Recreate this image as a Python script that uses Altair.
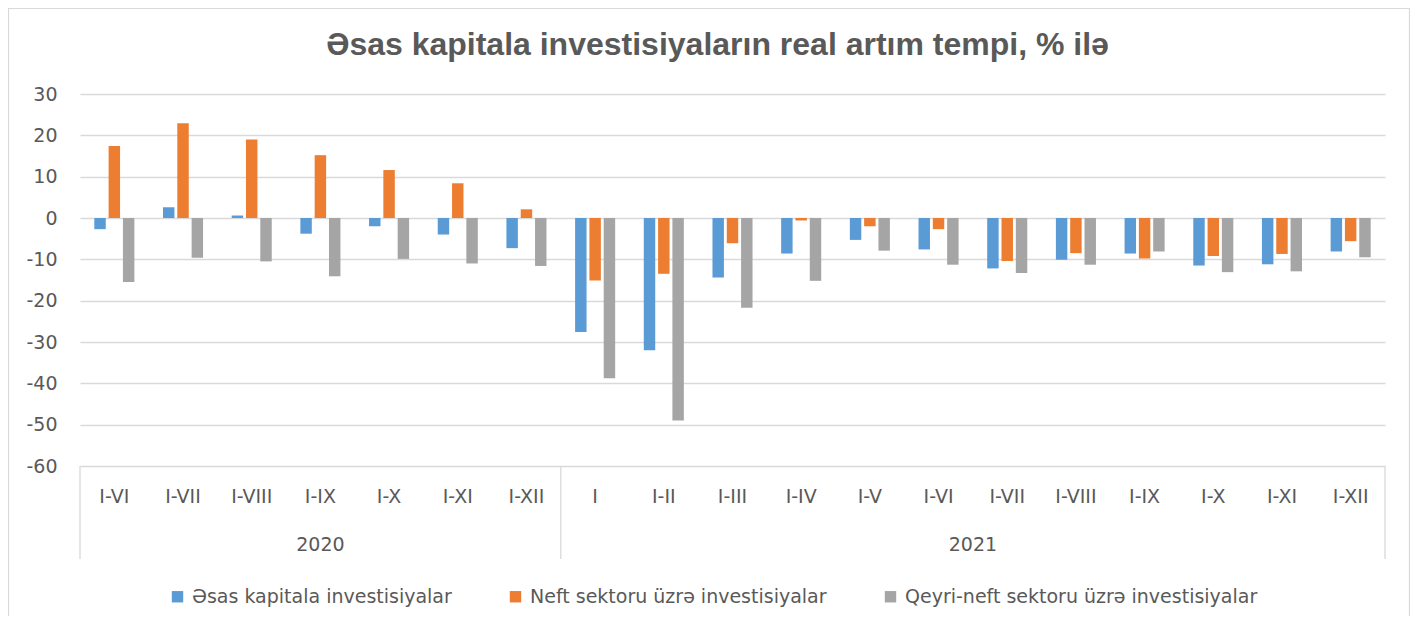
import altair as alt
import pandas as pd

years = ["2020"] * 7 + ["2021"] * 12
periods = ["I-VI", "I-VII", "I-VIII", "I-IX", "I-X", "I-XI", "I-XII",
           "I", "I-II", "I-III", "I-IV", "I-V", "I-VI", "I-VII", "I-VIII", "I-IX", "I-X", "I-XI", "I-XII"]
series = ["Əsas kapitala investisiyalar", "Neft sektoru üzrə investisiyalar",
          "Qeyri-neft sektoru üzrə investisiyalar"]
colors = ["#5b9bd5", "#ed7d31", "#a5a5a5"]
title_text = "Əsas kapitala investisiyaların real artım tempi, % ilə"

esas = [-2.7, 2.6, 0.6, -3.8, -2.0, -4.0, -7.3,
        -27.6, -32.0, -14.4, -8.6, -5.3, -7.6, -12.2, -10.1, -8.6, -11.5, -11.2, -8.1]
neft = [17.4, 22.9, 19.0, 15.2, 11.6, 8.4, 2.1,
        -15.1, -13.5, -6.1, -0.6, -2.0, -2.7, -10.4, -8.5, -9.8, -9.2, -8.7, -5.6]
qeyri = [-15.5, -9.6, -10.5, -14.1, -9.9, -11.0, -11.6,
         -38.8, -49.0, -21.7, -15.2, -7.9, -11.3, -13.3, -11.3, -8.1, -13.1, -12.9, -9.5]

keys = [f"{y}|{p}" for y, p in zip(years, periods)]
rows = []
for vals, s in zip([esas, neft, qeyri], series):
    for k, v in zip(keys, vals):
        rows.append({"key": k, "series": s, "value": v})
df = pd.DataFrame(rows)

W, H = 1305, 372
FONT = "DejaVu Sans"
FS = 19
GREY = "#595959"

xenc = alt.X("key:N", sort=keys, scale=alt.Scale(paddingInner=0, paddingOuter=0),
             axis=alt.Axis(title=None, labelExpr="split(datum.value, '|')[1]", labelAngle=0,
                           ticks=False, domain=False, labelPadding=21, labelFontSize=FS,
                           labelColor=GREY, labelFont=FONT, grid=False))

bars = alt.Chart(df).mark_bar().encode(
    x=xenc,
    xOffset=alt.XOffset("series:N", sort=series,
                        scale=alt.Scale(paddingInner=0.2, paddingOuter=1.0)),
    y=alt.Y("value:Q", scale=alt.Scale(domain=[-60, 30], nice=False, zero=False),
            axis=alt.Axis(title=None, values=list(range(-60, 31, 10)), ticks=False, domain=False,
                          labelExpr="datum.value + ''",
                          labelPadding=23, labelFontSize=FS, labelColor=GREY, labelFont=FONT,
                          gridColor="#d9d9d9", gridWidth=1.3)),
    color=alt.Color("series:N", sort=series, scale=alt.Scale(domain=series, range=colors),
                    legend=alt.Legend(title=None, orient="none", direction="horizontal",
                                      legendX=88, legendY=493, symbolType="square",
                                      symbolSize=130, symbolStrokeWidth=0, labelFontSize=FS,
                                      labelFont=FONT, labelColor=GREY, columnPadding=54,
                                      labelLimit=0, symbolOffset=0, labelOffset=5)),
)

layers = [bars]

# year group labels and separators
groups = []
for y in dict.fromkeys(years):
    ks = [k for k, yy in zip(keys, years) if yy == y]
    groups.append((y, ks))

for y, ks in groups:
    n = len(ks)
    if n % 2 == 1:
        mid, bp = ks[n // 2], 0.5
    else:
        mid, bp = ks[n // 2 - 1], 1.0
    t = alt.Chart(pd.DataFrame({"key": [mid], "label": [y]})).mark_text(
        fontSize=FS, font=FONT, color=GREY, baseline="middle").encode(
        x=alt.X("key:N", sort=keys, bandPosition=bp),
        y=alt.value(451), text="label:N")
    layers.append(t)

sep_left = [ks[0] for _, ks in groups]
sep_right = [groups[-1][1][-1]]
for klist, bp in [(sep_left, 0.0), (sep_right, 1.0)]:
    r = alt.Chart(pd.DataFrame({"key": klist})).mark_rule(color="#d9d9d9", strokeWidth=1.3).encode(
        x=alt.X("key:N", sort=keys, bandPosition=bp),
        y=alt.value(H), y2=alt.value(H + 93))
    layers.append(r)

border = alt.Chart(pd.DataFrame({"a": [0]})).mark_rect(
    fill=None, stroke="#d9d9d9", strokeWidth=1.2).encode(
    x=alt.value(-71.5), x2=alt.value(1329.5), y=alt.value(-85.5), y2=alt.value(H + 200))
layers.insert(0, border)

title = alt.Chart(pd.DataFrame({"t": [title_text]})).mark_text(
    font="Liberation Sans", fontSize=32, fontWeight="bold", color=GREY,
    align="center", baseline="middle").encode(
    x=alt.value(W / 2 - 15), y=alt.value(-49), text="t:N")
layers.append(title)

chart = alt.layer(*layers).properties(
    width=W, height=H,
    autosize=alt.AutoSizeParams(type="none"),
    padding={"left": 72, "top": 86, "right": 25, "bottom": 150},
).configure_view(stroke=None).configure_legend(padding=0)

chart.save("out.html", embed_options={"renderer": "svg", "actions": False})
